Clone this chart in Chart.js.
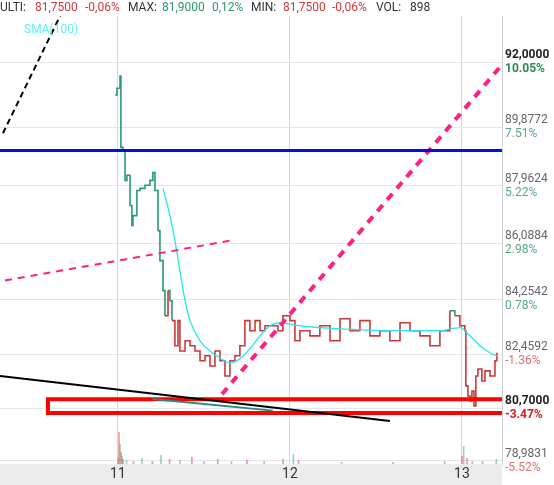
<!DOCTYPE html>
<html>
<head>
<meta charset="UTF-8">
<title>Price</title>
<script src="https://cdn.jsdelivr.net/npm/chart.js"></script>
<style>
  body { margin: 0; background: #fff; }
  #wrap { position: relative; width: 554px; height: 485px; }
</style>
</head>
<body>
<div id="wrap"><canvas id="c"></canvas></div>
<script>
// price series (day, price)
const priceDays = [10.983,10.994,11.012,11.017,11.029,11.041,11.052,11.070,11.081,11.087,11.110,11.128,11.157,11.186,11.203,11.215,11.233,11.244,11.262,11.273,11.291,11.302,11.314,11.331,11.349,11.360,11.390,11.419,11.448,11.477,11.506,11.535,11.564,11.593,11.622,11.651,11.680,11.709,11.738,11.767,11.797,11.826,11.855,11.884,11.930,11.959,12.0,12.029,12.058,12.116,12.174,12.233,12.291,12.349,12.407,12.465,12.523,12.581,12.640,12.698,12.756,12.814,12.872,12.930,12.959,12.988,13.017,13.023,13.035,13.047,13.058,13.070,13.081,13.093,13.116,13.134,13.163,13.192,13.203];
const prices = [90.93,91.15,91.55,89.22,89.12,88.14,88.31,87.32,86.67,86.99,87.81,87.88,87.98,88.14,88.40,87.81,86.50,85.52,84.54,83.72,84.54,84.21,83.56,82.74,83.56,82.57,82.90,82.74,82.57,82.25,82.41,82.08,82.57,82.25,81.75,82.25,82.41,82.74,83.56,83.23,83.56,83.23,83.39,83.39,83.23,83.72,83.56,82.90,83.23,83.06,83.39,82.90,83.62,83.23,83.56,83.06,83.23,82.90,83.49,83.23,83.06,82.74,83.23,83.88,83.72,83.39,83.23,81.43,81.10,80.94,81.26,80.77,81.75,81.98,81.59,81.92,81.75,82.25,82.51];
const smaDays = [11.262,11.302,11.331,11.360,11.390,11.419,11.477,11.535,11.593,11.651,11.709,11.767,11.826,11.884,11.942,12.058,12.291,12.640,12.872,12.988,13.047,13.105,13.163,13.203];
const smaValues = [87.88,86.99,86.18,85.19,84.21,83.56,82.90,82.57,82.34,82.18,82.31,82.64,83.06,83.39,83.49,83.39,83.29,83.23,83.23,83.33,83.06,82.74,82.51,82.41];
const volDays = [11.0,11.006,11.012,11.018,11.024,11.03,11.05,11.09,11.14,11.2,11.25,11.3,11.36,11.43,11.5,11.58,11.66,11.75,11.85,11.96,12.02,12.05,12.3,12.6,12.9,13.0,13.01,13.03,13.06,13.12,13.2];
const volumes = [6,32,20,12,8,5,4,3,6,3,9,5,4,7,3,5,3,4,3,5,10,4,2,2,3,8,18,6,3,3,5];
const tickValues = [92.0,89.8772,87.9624,86.0884,84.2542,82.4592,80.7,78.9831];
const tickPercents = ["10.05%","7.51%","5.22%","2.98%","0.78%","-1.36%","-3.47%","-5.52%"];
const dayTicks = [11, 12, 13];

const xMin = 10.314, xMax = 13.233;
const pts = (xs, ys) => xs.map((x, i) => ({ x: x, y: ys[i] }));
const seg = (a, b) => [{ x: a[0], y: a[1] }, { x: b[0], y: b[1] }];

const headerPlugin = {
  id: 'header',
  afterDraw(chart) {
    const ctx = chart.ctx;
    const y = chart.scales.y;
    ctx.save();
    ctx.font = '12px Roboto';
    ctx.textBaseline = 'middle';
    const items = [
      ['ULTI:', 0, '#333'], ['81,7500', 35, '#d03a3a'], ['-0,06%', 85, '#d03a3a'],
      ['MAX:', 128, '#333'], ['81,9000', 162, '#2e9a6a'], ['0,12%', 212, '#2e9a6a'],
      ['MIN:', 251, '#333'], ['81,7500', 283, '#d03a3a'], ['-0,06%', 332, '#d03a3a'],
      ['VOL:', 376, '#333'], ['898', 410, '#333']];
    items.forEach(t => { ctx.fillStyle = t[2]; ctx.fillText(t[0], t[1], 8); });
    ctx.fillStyle = '#5ff0f0';
    ctx.fillText('SMA(100)', 24, 30);
    // right axis labels
    tickValues.forEach((v, i) => {
      const py = y.getPixelForValue(v);
      const bold = (v === 92 || v === 80.7);
      ctx.font = (bold ? 'bold ' : '') + '12px Roboto';
      ctx.fillStyle = bold ? '#222' : '#666';
      ctx.fillText(v.toFixed(4).replace('.', ','), 505, py - 7);
      const neg = tickPercents[i].startsWith('-');
      ctx.fillStyle = neg ? (bold ? '#d32020' : '#e07070') : (bold ? '#2e8a5a' : '#5aa87a');
      ctx.fillText(tickPercents[i], 505, py + 7);
    });
    ctx.restore();
  },
  beforeDraw(chart) {
    const ctx = chart.ctx;
    ctx.save();
    ctx.fillStyle = '#ececec';
    ctx.fillRect(0, chart.chartArea.bottom, chart.chartArea.right, 485 - chart.chartArea.bottom);
    ctx.restore();
  }
};

new Chart(document.getElementById('c'), {
  type: 'line',
  data: {
    datasets: [
      { type: 'bar', data: pts(volDays, volumes), yAxisID: 'v', barThickness: 1,
        backgroundColor: volDays.map((d, i) => i % 2 ? 'rgba(220,90,90,0.6)' : 'rgba(110,170,140,0.6)') },
      { data: [{ x: xMin, y: 89.12 }, { x: xMax, y: 89.12 }], borderColor: '#0010e0', borderWidth: 3 },
      { data: seg([10.331, 89.68], [10.709, 94.04]), borderColor: '#000', borderWidth: 2, borderDash: [6, 4] },
      { data: seg([10.343, 84.87], [11.663, 86.18]), borderColor: '#ff2080', borderWidth: 2, borderDash: [7, 6] },
      { data: seg([10.314, 81.75], [12.581, 80.28]), borderColor: '#000', borderWidth: 2 },
      { data: seg([11.20, 81.0], [11.90, 80.62]), borderColor: '#2a8a7a', borderWidth: 2 },
      { data: [{ x: xMax, y: 80.99 }, { x: 10.593, y: 80.99 }, { x: 10.593, y: 80.54 }, { x: xMax, y: 80.54 }],
        borderColor: '#ff0000', borderWidth: 4 },
      { data: seg([11.605, 81.16], [13.221, 91.84]), borderColor: '#ff2080', borderWidth: 4, borderDash: [8, 7] },
      { data: pts(smaDays, smaValues), borderColor: '#22e8ee', borderWidth: 1.3, cubicInterpolationMode: 'monotone' },
      { data: pts(priceDays, prices), borderWidth: 1.6, stepped: true, borderColor: '#c83a3a',
        segment: { borderColor: c => (c.p0.parsed.y >= 83.8 ? '#2a9a6e' : '#c83a3a') } }
    ]
  },
  options: {
    responsive: true, maintainAspectRatio: false, animation: false,
    layout: { padding: { top: 16, right: 52, left: 0, bottom: 0 } },
    elements: { point: { radius: 0 }, line: { tension: 0 } },
    plugins: { legend: { display: false }, tooltip: { enabled: false } },
    scales: {
      x: { type: 'linear', min: xMin, max: xMax, offset: false,
        afterBuildTicks: s => { s.ticks = dayTicks.map(v => ({ value: v })); },
        ticks: { font: { size: 14, family: 'Roboto' }, color: '#333', padding: 2, maxRotation: 0 },
        grid: { color: '#d6d6d6', drawTicks: false, offset: false }, border: { display: false } },
      y: { position: 'right', min: 78.87, max: 93.51,
        afterBuildTicks: s => { s.ticks = tickValues.map(v => ({ value: v })); },
        ticks: { display: false }, grid: { color: '#e6e6e6', drawTicks: false },
        border: { color: '#cfcfcf' } },
      v: { display: false, min: 0, max: 450 }
    }
  },
  plugins: [headerPlugin]
});
</script>
</body>
</html>
